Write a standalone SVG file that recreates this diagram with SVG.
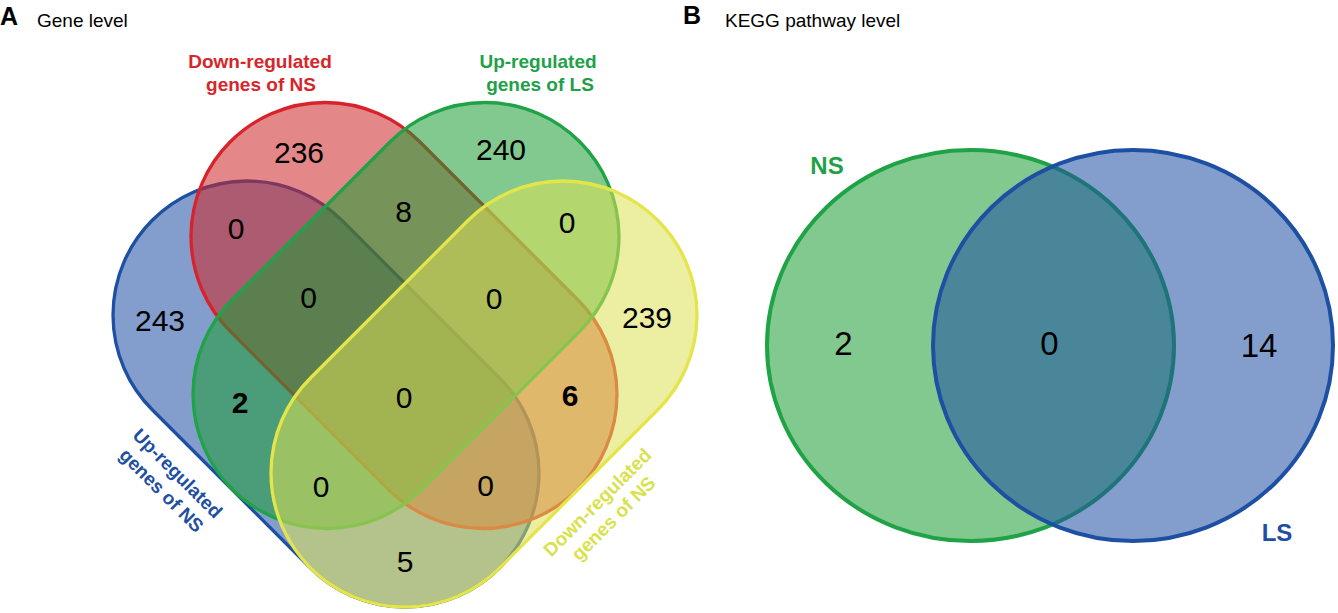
<svg xmlns="http://www.w3.org/2000/svg" width="1338" height="613" viewBox="0 0 1338 613">
<style>
text{font-family:"Liberation Sans",Arial,sans-serif}
.num{font-size:30px;fill:#000;text-anchor:middle}
.numB{font-size:33px;fill:#000;text-anchor:middle}
.bold{font-weight:bold}
.lab{font-size:19px;font-weight:bold;text-anchor:middle}
.set{stroke-width:3.3;fill-opacity:0.55}
.setB{stroke-width:4;fill-opacity:0.55}
.title{font-size:19px;fill:#000}
.panel{font-size:25px;font-weight:bold;fill:#000}
</style>
<rect width="1338" height="613" fill="#ffffff"/>
<g id="panel-labels">
<text class="panel" x="0" y="25">A</text>
<text class="title" x="37" y="27">Gene level</text>
<text class="panel" x="683" y="24">B</text>
<text class="title" x="725" y="27">KEGG pathway level</text>
</g>
<g id="set-up-NS">
<rect class="set" transform="translate(326,394) rotate(45)" x="-245.7" y="-134" width="491.4" height="268" rx="134" fill="#1d4fa3" stroke="#1d4fa3"/>
<g transform="translate(173,478) rotate(45)"><text class="lab" fill="#1f4fa3" x="0" y="0">Up-regulated</text></g>
<g transform="translate(157,495) rotate(45)"><text class="lab" fill="#1f4fa3" x="0" y="0">genes of NS</text></g>
</g>
<g id="set-down-NS-red">
<rect class="set" transform="translate(404,315.5) rotate(45)" x="-245.7" y="-134" width="491.4" height="268" rx="134" fill="#ce2527" stroke="#d7232b"/>
<text class="lab" fill="#d7262b" x="260" y="68">Down-regulated</text>
<text class="lab" fill="#d7262b" x="261" y="91">genes of NS</text>
</g>
<g id="set-up-LS">
<rect class="set" transform="translate(406,315.5) rotate(-45)" x="-245.7" y="-134" width="491.4" height="268" rx="134" fill="#1c9d33" stroke="#1fa346"/>
<text class="lab" fill="#21a147" x="538" y="68">Up-regulated</text>
<text class="lab" fill="#21a147" x="540" y="91">genes of LS</text>
</g>
<g id="set-down-NS-yellow">
<rect class="set" transform="translate(484,394) rotate(-45)" x="-245.7" y="-134" width="491.4" height="268" rx="134" fill="#dce056" stroke="#e3e54a"/>
<g transform="translate(602,507) rotate(-45)"><text class="lab" fill="#d8e24c" x="0" y="0">Down-regulated</text></g>
<g transform="translate(618,523) rotate(-45)"><text class="lab" fill="#d8e24c" x="0" y="0">genes of NS</text></g>
</g>
<g id="gene-counts">
<text class="num" x="299" y="163">236</text>
<text class="num" x="501" y="160">240</text>
<text class="num" x="236" y="239">0</text>
<text class="num" x="160" y="331">243</text>
<text class="num" x="403.5" y="222">8</text>
<text class="num" x="567" y="233">0</text>
<text class="num" x="647" y="328">239</text>
<text class="num" x="308.5" y="308">0</text>
<text class="num" x="494" y="309">0</text>
<text class="num" x="404" y="408">0</text>
<text class="num bold" x="240" y="413">2</text>
<text class="num bold" x="570" y="406">6</text>
<text class="num" x="321" y="497">0</text>
<text class="num" x="485.5" y="496">0</text>
<text class="num" x="405" y="572">5</text>
</g>
<g id="kegg-NS">
<ellipse class="setB" cx="970.5" cy="345.5" rx="203.5" ry="195.5" fill="#1c9d33" stroke="#1fa346"/>
<text class="bold" font-size="24" fill="#21a147" text-anchor="middle" x="827" y="174">NS</text>
</g>
<g id="kegg-LS">
<ellipse class="setB" cx="1133" cy="345.5" rx="200" ry="195.5" fill="#1d4fa3" stroke="#1d4fa3"/>
<text class="bold" font-size="24" fill="#1f4fa3" text-anchor="middle" x="1277" y="541">LS</text>
</g>
<g id="kegg-counts">
<text class="numB" x="843.5" y="355">2</text>
<text class="numB" x="1049.5" y="355">0</text>
<text class="numB" x="1259" y="357">14</text>
</g>
</svg>
